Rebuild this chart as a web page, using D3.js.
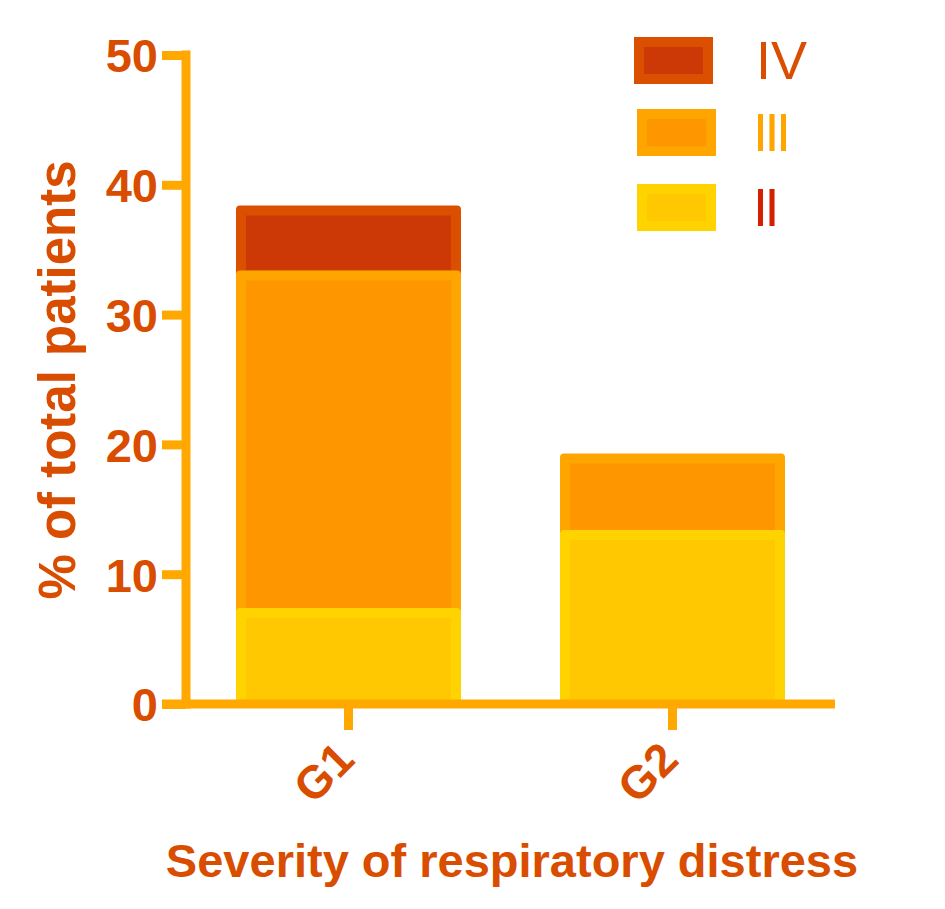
<!DOCTYPE html>
<html><head><meta charset="utf-8">
<script src="https://cdn.jsdelivr.net/npm/d3@7"></script>
<style>body{margin:0;background:#fff}svg{display:block}</style>
</head><body>
<svg id="c" width="945" height="909"></svg>
<script>
const categories = ["G1", "G2"];
const seriesKeys = ["II", "III", "IV"];
const valuesII  = [7.4, 13.4];
const valuesIII = [26.0, 5.9];
const valuesIV  = [5.0, 0];
const yTicks = [0, 10, 20, 30, 40, 50];
const legendOrder = ["IV", "III", "II"];

const outerColor = {II: "#FFD300", III: "#FFA500", IV: "#DA5000"};
const innerColor = {II: "#FFC800", III: "#FE9600", IV: "#CD3906"};
const labelColor = {II: "#D42000", III: "#FFA500", IV: "#D94E00"};
const textColor = "#D94D00";
const axisColor = "#FFA800";
const font = "Liberation Sans, Arial, sans-serif";

const rows = categories.map((c, i) => ({cat: c, II: valuesII[i], III: valuesIII[i], IV: valuesIV[i]}));
const stacked = d3.stack().keys(seriesKeys)(rows);

const svg = d3.select("#c");
const y = d3.scaleLinear().domain([0, 50]).range([704, 55]);
const x = d3.scaleBand().domain(categories).range([186, 835]).paddingInner(0.3056).paddingOuter(0.1543);

const inset = 10;
const order = stacked.slice().reverse();
order.forEach(s => {
  const key = s.key;
  s.forEach((d, i) => {
    if (d[1] - d[0] <= 0) return;
    const x0 = x(categories[i]), w = x.bandwidth();
    const yt = y(d[1]), yb = y(d[0]);
    svg.append("rect").attr("x", x0).attr("y", yt).attr("width", w).attr("height", yb - yt + (d[0] > 0 ? inset : 0))
      .attr("rx", 4).attr("fill", outerColor[key]);
    svg.append("rect").attr("x", x0 + inset).attr("y", yt + inset).attr("width", w - 2 * inset)
      .attr("height", Math.max(0, yb - yt - inset)).attr("fill", innerColor[key]);
  });
});

// y axis
const yAxis = d3.axisLeft(y).tickValues(yTicks).tickSize(24).tickPadding(4).tickFormat(d3.format("d"));
const gy = svg.append("g").attr("transform", "translate(186,0)").call(yAxis);
gy.select(".domain").remove();
gy.selectAll(".tick line").attr("stroke", axisColor).attr("stroke-width", 9);
gy.selectAll(".tick text").attr("fill", textColor).attr("font-family", font)
  .attr("font-weight", "bold").attr("font-size", 47).attr("dy", "0.36em");
svg.append("line").attr("x1", 186).attr("x2", 186).attr("y1", 50.5).attr("y2", 708.5)
  .attr("stroke", axisColor).attr("stroke-width", 9);

// x axis
const xAxis = d3.axisBottom(x).tickSize(26).tickFormat(d => d);
const gx = svg.append("g").attr("transform", "translate(0,704)").call(xAxis);
gx.select(".domain").remove();
gx.selectAll(".tick line").attr("stroke", axisColor).attr("stroke-width", 9);
gx.selectAll(".tick text").attr("fill", textColor).attr("font-family", font)
  .attr("font-weight", "bold").attr("font-size", 46)
  .attr("text-anchor", "end").attr("dy", 0).attr("y", 0)
  .attr("transform", "translate(8,58) rotate(-45)");
svg.append("line").attr("x1", 162).attr("x2", 835).attr("y1", 704).attr("y2", 704)
  .attr("stroke", axisColor).attr("stroke-width", 9);

// axis titles
svg.append("text").attr("x", 512).attr("y", 877).attr("text-anchor", "middle")
  .attr("fill", textColor).attr("font-family", font)
  .attr("font-weight", "bold").attr("font-size", 47).text("Severity of respiratory distress");
svg.append("text").attr("transform", "translate(75,380) rotate(-90)").attr("text-anchor", "middle")
  .attr("fill", textColor).attr("font-family", font)
  .attr("font-weight", "bold").attr("font-size", 51).text("% of total patients");

// legend
const legY = [37, 109, 184];
legendOrder.forEach((k, i) => {
  const lx = i === 0 ? 634 : 637;
  const ly = legY[i];
  svg.append("rect").attr("x", lx).attr("y", ly).attr("width", 79).attr("height", 47).attr("fill", outerColor[k]);
  svg.append("rect").attr("x", lx + 10).attr("y", ly + 10).attr("width", 59).attr("height", 27).attr("fill", innerColor[k]);
  svg.append("text").attr("x", k === "IV" ? 756 : 753).attr("y", ly + 23).attr("dy", "0.36em")
    .attr("fill", labelColor[k]).attr("font-family", font)
    .attr("letter-spacing", k === "IV" ? 0 : -3.5)
    .attr("font-size", 54).text(k);
});
</script>
</body></html>
